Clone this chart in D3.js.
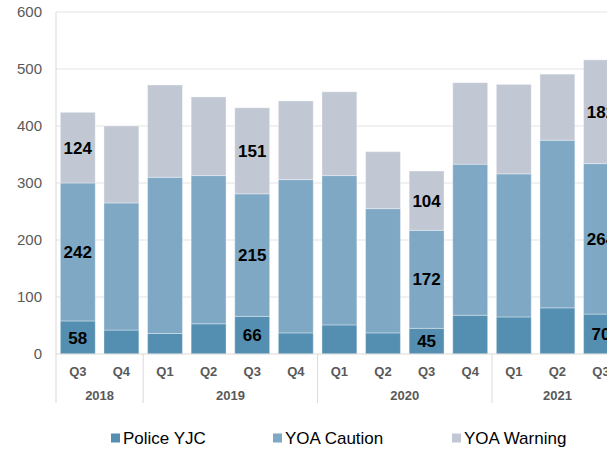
<!DOCTYPE html>
<html lang="en">
<head>
    <meta charset="UTF-8">
    <title>Youth outcomes by quarter</title>
    <script src="https://cdn.jsdelivr.net/npm/d3@7"></script>
    <style>
        body { margin: 0; background: #fff; }
        svg { font-family: "Liberation Sans", Arial, sans-serif; display: block; }
    </style>
</head>
<body>
    <svg id="chart" width="607" height="450"></svg>

    <script>
        // data
        let quarters = ["Q3", "Q4", "Q1", "Q2", "Q3", "Q4", "Q1", "Q2", "Q3", "Q4", "Q1", "Q2", "Q3"];
        let years = ["2018", "2018", "2019", "2019", "2019", "2019", "2020", "2020", "2020", "2020", "2021", "2021", "2021"];
        let policeYJC = [58, 42, 36, 53, 66, 37, 51, 37, 45, 68, 65, 81, 70];
        let yoaCaution = [242, 223, 274, 260, 215, 269, 262, 218, 172, 265, 251, 294, 264];
        let yoaWarning = [124, 135, 162, 138, 151, 138, 147, 100, 104, 143, 157, 116, 182];
        let seriesNames = ["Police YJC", "YOA Caution", "YOA Warning"];
        let colors = ["#548eb0", "#7ea8c4", "#c1c8d4"];
        let yTicks = [0, 100, 200, 300, 400, 500, 600];

        let svg = d3.select("#chart");
        let plotLeft = 56, plotTop = 12, plotBottom = 354;
        let step = 43.6;
        let ids = d3.range(quarters.length);

        let x = d3.scaleBand()
            .domain(ids)
            .range([plotLeft, plotLeft + step * ids.length])
            .paddingInner(0.2)
            .paddingOuter(0.1);

        let y = d3.scaleLinear().domain([0, 600]).range([plotBottom, plotTop]);

        // gridlines
        svg.append("g")
            .selectAll("line")
            .data(yTicks.slice(1))
            .join("line")
            .attr("x1", plotLeft).attr("x2", 607)
            .attr("y1", d => y(d)).attr("y2", d => y(d))
            .attr("stroke", "#e3e3e3").attr("stroke-width", 1);

        // y tick labels
        svg.append("g")
            .selectAll("text")
            .data(yTicks)
            .join("text")
            .attr("x", 42)
            .attr("y", d => y(d))
            .attr("dy", "0.35em")
            .attr("text-anchor", "end")
            .attr("font-size", 15)
            .attr("fill", "#595959")
            .text(d => d);

        // stacked bars
        let rows = ids.map(i => ({ i: i, police: policeYJC[i], caution: yoaCaution[i], warning: yoaWarning[i] }));
        let stack = d3.stack().keys(["police", "caution", "warning"])(rows);

        let layers = svg.append("g")
            .selectAll("g")
            .data(stack)
            .join("g")
            .attr("fill", (d, k) => colors[k]);

        layers.selectAll("rect")
            .data(d => d)
            .join("rect")
            .attr("x", d => x(d.data.i))
            .attr("width", x.bandwidth())
            .attr("y", d => y(d[1]))
            .attr("height", d => y(d[0]) - y(d[1]))
            .attr("stroke", "#ffffff")
            .attr("stroke-opacity", 0.35)
            .attr("stroke-width", 1);

        // value labels on Q3 bars only
        layers.selectAll("text")
            .data(d => d.filter(p => quarters[p.data.i] === "Q3"))
            .join("text")
            .attr("x", d => x(d.data.i) + x.bandwidth() / 2)
            .attr("y", d => (y(d[0]) + y(d[1])) / 2)
            .attr("dy", "0.36em")
            .attr("text-anchor", "middle")
            .attr("font-size", 17)
            .attr("font-weight", "bold")
            .attr("fill", "#000")
            .text(d => d[1] - d[0]);

        // axis line
        svg.append("line")
            .attr("x1", plotLeft).attr("x2", 607)
            .attr("y1", plotBottom).attr("y2", plotBottom)
            .attr("stroke", "#d9d9d9");

        // left frame line
        svg.append("line")
            .attr("x1", plotLeft).attr("x2", plotLeft)
            .attr("y1", plotTop).attr("y2", 403)
            .attr("stroke", "#d9d9d9");

        // quarter labels
        svg.append("g")
            .selectAll("text")
            .data(ids)
            .join("text")
            .attr("x", i => x(i) + x.bandwidth() / 2)
            .attr("y", 371)
            .attr("dy", "0.35em")
            .attr("text-anchor", "middle")
            .attr("font-size", 13)
            .attr("font-weight", "bold")
            .attr("fill", "#595959")
            .text(i => quarters[i]);

        // year groups
        let groups = d3.groups(ids, i => years[i]).map(([yr, idx]) => ({
            year: yr,
            start: x(idx[0]) - x.step() * x.paddingInner() / 2,
            end: x(idx[idx.length - 1]) + x.bandwidth() + x.step() * x.paddingInner() / 2
        }));

        svg.append("g")
            .selectAll("line")
            .data(groups.slice(1))
            .join("line")
            .attr("x1", d => d.start).attr("x2", d => d.start)
            .attr("y1", plotBottom).attr("y2", 403)
            .attr("stroke", "#d9d9d9");

        svg.append("g")
            .selectAll("text")
            .data(groups)
            .join("text")
            .attr("x", d => (d.start + d.end) / 2)
            .attr("y", 395)
            .attr("dy", "0.35em")
            .attr("text-anchor", "middle")
            .attr("font-size", 13)
            .attr("font-weight", "bold")
            .attr("fill", "#595959")
            .text(d => d.year);

        // legend
        let legendX = [111, 273, 452];
        let legend = svg.append("g")
            .selectAll("g")
            .data(seriesNames)
            .join("g")
            .attr("transform", (d, k) => `translate(${legendX[k]},438)`);

        legend.append("rect")
            .attr("x", 0).attr("y", -4.5)
            .attr("width", 9).attr("height", 9)
            .attr("fill", (d, k) => colors[k]);

        legend.append("text")
            .attr("x", 12)
            .attr("dy", "0.35em")
            .attr("font-size", 17)
            .attr("fill", "#000")
            .text(d => d);
    </script>
</body>
</html>
